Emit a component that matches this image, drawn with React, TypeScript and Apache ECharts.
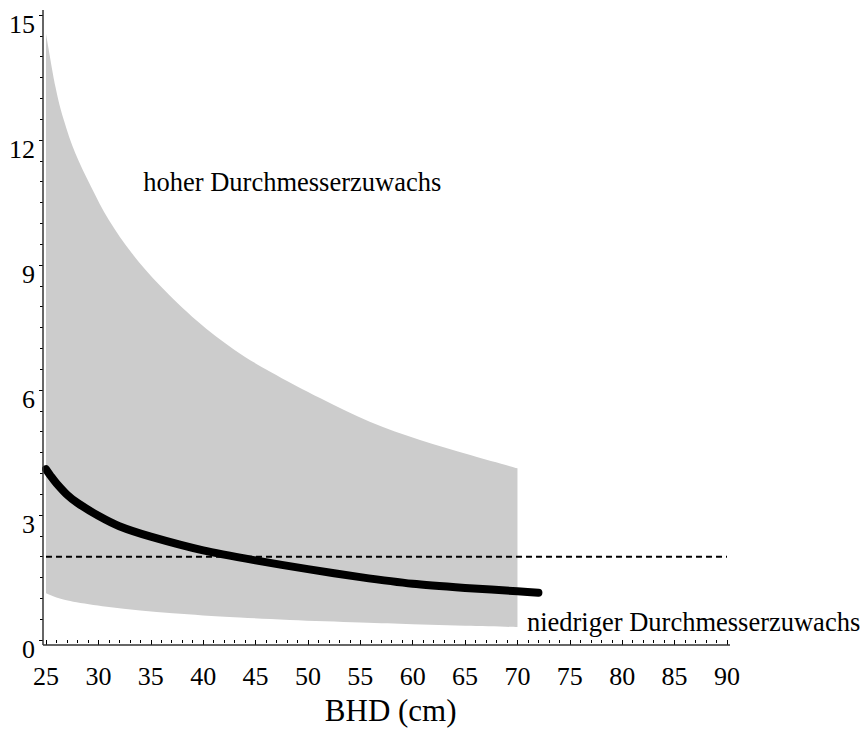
import React, { useEffect, useRef } from "react";
import * as echarts from "echarts";

// Grey band: upper edge and lower edge read along BHD
const xUpper = [25, 25.9, 26.7, 27.8, 29.3, 31, 33.2, 35.9, 39.4, 43, 46.4, 51.2, 55.9, 60.7, 65.5, 70];
const upperBand = [14.55, 13.28, 12.48, 11.68, 10.88, 10.08, 9.28, 8.5, 7.66, 6.96, 6.44, 5.8, 5.24, 4.8, 4.44, 4.12];
const xLower = [25, 26, 27.6, 30.8, 34, 37.1, 40, 43.5, 48.3, 55, 60, 65, 70];
const lowerBand = [1.12, 1.02, 0.92, 0.8, 0.71, 0.64, 0.59, 0.54, 0.48, 0.42, 0.38, 0.34, 0.31];

// Mean curve
const xCurve = [25, 25.5, 26, 27, 28, 30, 32, 35, 40, 45, 50, 55, 60, 65, 70, 72];
const curveValues = [4.1, 3.92, 3.76, 3.49, 3.29, 2.98, 2.73, 2.48, 2.15, 1.91, 1.7, 1.51, 1.35, 1.25, 1.17, 1.135];

// Reference (dotted) level
const xRef = [25, 90];
const refLevel = [2, 2];

const labelHigh = "hoher Durchmesserzuwachs";
const labelLow = "niedriger Durchmesserzuwachs";
const xTitle = "BHD (cm)";

const FONT = "'Liberation Serif', 'Times New Roman', serif";

// Catmull-Rom spline through pixel points -> SVG cubic segments (no leading M)
function splineSegs(pts: number[][]): string {
  let d = "";
  const n = pts.length;
  for (let i = 0; i < n - 1; i++) {
    const p0 = pts[Math.max(0, i - 1)];
    const p1 = pts[i];
    const p2 = pts[i + 1];
    const p3 = pts[Math.min(n - 1, i + 2)];
    const c1x = p1[0] + (p2[0] - p0[0]) / 6;
    const c1y = p1[1] + (p2[1] - p0[1]) / 6;
    const c2x = p2[0] - (p3[0] - p1[0]) / 6;
    const c2y = p2[1] - (p3[1] - p1[1]) / 6;
    d += ` C ${c1x} ${c1y} ${c2x} ${c2y} ${p2[0]} ${p2[1]}`;
  }
  return d;
}

export default function App() {
  const ref = useRef<HTMLDivElement>(null);

  useEffect(() => {
    if (!ref.current) return;
    const chart = echarts.init(ref.current, null, { renderer: "svg" });

    const curveData = xCurve.map((x, i) => [x, curveValues[i]]);
    const refData = xRef.map((x, i) => [x, refLevel[i]]);

    const option: any = {
      animation: false,
      backgroundColor: "#fff",
      grid: { left: 46, right: 138, top: 15, bottom: 91, containLabel: false, outerBoundsMode: "none" },
      xAxis: {
        type: "value",
        min: 25,
        max: 90,
        interval: 5,
        offset: 5,
        axisLine: { show: false },
        axisTick: { show: true, length: 5, lineStyle: { color: "#000", width: 1 } },
        minorTick: { show: true, splitNumber: 5, length: 3, lineStyle: { color: "#000", width: 1 } },
        axisLabel: { margin: 18, fontSize: 26, fontFamily: FONT, color: "#000" },
        splitLine: { show: false },
        minorSplitLine: { show: false },
      },
      yAxis: {
        type: "value",
        min: 0,
        max: 15,
        interval: 3,
        offset: 3,
        axisLine: { show: false },
        axisTick: { show: true, length: 4, lineStyle: { color: "#000", width: 1 } },
        minorTick: { show: true, splitNumber: 6, length: 3, lineStyle: { color: "#000", width: 1 } },
        axisLabel: {
          margin: 8,
          fontSize: 26,
          fontFamily: FONT,
          color: "#000",
          verticalAlign: "top",
          lineHeight: 18,
        },
        splitLine: { show: false },
        minorSplitLine: { show: false },
      },
      series: [
        {
          type: "custom",
          coordinateSystem: "cartesian2d",
          data: [[25, 0]],
          silent: true,
          clip: false,
          z: 1,
          renderItem: (_params: any, api: any) => {
            const up = xUpper.map((x, i) => api.coord([x, upperBand[i]]));
            const lo = xLower.map((x, i) => api.coord([x, lowerBand[i]])).reverse();
            const d =
              `M ${up[0][0]} ${up[0][1]}` +
              splineSegs(up) +
              ` L ${lo[0][0]} ${lo[0][1]}` +
              splineSegs(lo) +
              " Z";
            return {
              type: "path",
              shape: { pathData: d },
              style: { fill: "#cccccc", stroke: "none" },
            };
          },
        },
        {
          type: "line",
          data: refData,
          symbol: "none",
          lineStyle: { color: "#000", width: 2, type: [6, 4] },
          silent: true,
          z: 3,
        },
        {
          type: "line",
          data: curveData,
          symbol: "none",
          smooth: 0.2,
          lineStyle: { color: "#000", width: 8, cap: "round", join: "round" },
          silent: true,
          z: 4,
        },
      ],
    };
    chart.setOption(option);

    const p = (x: number, y: number) => chart.convertToPixel({ gridIndex: 0 }, [x, y]) as number[];
    const o = p(25, 0);
    const top = p(25, 15);
    const right = p(90, 0);
    const axisX = o[0] - 3;
    const axisY = o[1] + 5;
    const hi = p(48.5, 11);
    const lo = p(70.9, 0.43);
    const ttl = p(57.9, 0);

    chart.setOption({
      graphic: [
        {
          type: "line",
          shape: { x1: axisX, y1: top[1] - 5, x2: axisX, y2: axisY },
          style: { stroke: "#333", lineWidth: 1.5 },
          z: 10,
        },
        {
          type: "line",
          shape: { x1: axisX, y1: axisY, x2: right[0] + 3, y2: axisY },
          style: { stroke: "#333", lineWidth: 1.5 },
          z: 10,
        },
        {
          type: "text",
          x: hi[0],
          y: hi[1],
          style: { text: labelHigh, font: `26.5px ${FONT}`, fill: "#000", textAlign: "center", textVerticalAlign: "middle" },
          z: 10,
        },
        {
          type: "text",
          x: lo[0],
          y: lo[1],
          style: { text: labelLow, font: `26.5px ${FONT}`, fill: "#000", textAlign: "left", textVerticalAlign: "middle" },
          z: 10,
        },
        {
          type: "text",
          x: ttl[0],
          y: 710,
          style: { text: xTitle, font: `31px ${FONT}`, fill: "#000", textAlign: "center", textVerticalAlign: "middle" },
          z: 10,
        },
      ],
    });

    return () => chart.dispose();
  }, []);

  return (
    <div
      ref={ref}
      style={{ position: "fixed", left: 0, top: 0, width: 865, height: 731, background: "#fff" }}
    />
  );
}
